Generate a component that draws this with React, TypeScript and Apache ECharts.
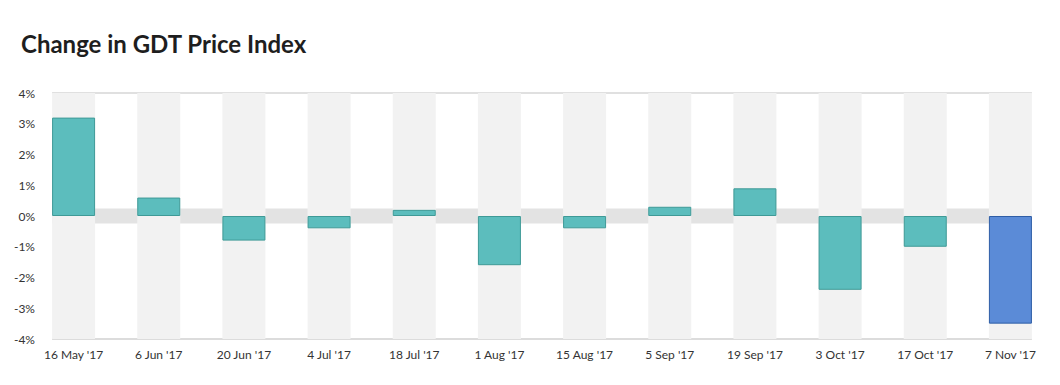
import React, { useEffect, useRef } from "react";
import * as echarts from "echarts";

const categories = [
  "16 May '17", "6 Jun '17", "20 Jun '17", "4 Jul '17", "18 Jul '17", "1 Aug '17",
  "15 Aug '17", "5 Sep '17", "19 Sep '17", "3 Oct '17", "17 Oct '17", "7 Nov '17",
];
const values = [3.2, 0.6, -0.8, -0.4, 0.2, -1.6, -0.4, 0.3, 0.9, -2.4, -1.0, -3.5];
const highlightIndex = 11;
const yMin = -4;
const yMax = 4;
const yInterval = 1;

const TEAL = "#5cbdbd";
const TEAL_BORDER = "#3f9a97";
const BLUE = "#5b8bd7";
const BLUE_BORDER = "#2f5ea6";
const BAR_W = 43;
const FONT = "Lato, 'Open Sans', sans-serif";

export default function App() {
  const ref = useRef<HTMLDivElement>(null);
  useEffect(() => {
    document.body.style.margin = "0";
    if (!ref.current) return;
    const chart = echarts.init(ref.current, undefined, { renderer: "svg" });
    chart.setOption({
      animation: false,
      backgroundColor: "#ffffff",
      title: {
        text: "Change in GDT Price Index",
        left: 21,
        top: 31,
        padding: 0,
        textStyle: { fontFamily: FONT, fontSize: 24, fontWeight: "bold", color: "#1e1e1e" },
      },
      grid: { left: 31, right: 7, top: 93, bottom: 46 },
      xAxis: {
        type: "category",
        data: categories,
        axisLine: { show: false },
        axisTick: { show: false },
        axisLabel: { fontFamily: FONT, fontSize: 12, color: "#333", margin: 9, interval: 0 },
        splitLine: { show: false },
      },
      yAxis: {
        type: "value",
        min: yMin,
        max: yMax,
        interval: yInterval,
        axisLine: { show: false },
        axisTick: { show: false },
        splitLine: { show: false },
        axisLabel: {
          formatter: "{value}%",
          fontFamily: FONT,
          fontSize: 12,
          color: "#333",
          margin: -4,
        },
      },
      series: [
        {
          type: "bar",
          barWidth: BAR_W,
          showBackground: true,
          backgroundStyle: { color: "#f2f2f2" },
          data: values.map((v, i) => ({
            value: v,
            itemStyle:
              i === highlightIndex
                ? { color: BLUE, borderColor: BLUE_BORDER, borderWidth: 1 }
                : { color: TEAL, borderColor: TEAL_BORDER, borderWidth: 1 },
          })),
        },
      ],
    });

    const half = BAR_W / 2;
    const x0 = (chart.convertToPixel({ xAxisIndex: 0 }, 0) as number) - half;
    const x1 = (chart.convertToPixel({ xAxisIndex: 0 }, categories.length - 1) as number) + half;
    const yTop = chart.convertToPixel({ yAxisIndex: 0 }, yMax) as number;
    const yZero = chart.convertToPixel({ yAxisIndex: 0 }, 0) as number;
    const yBot = chart.convertToPixel({ yAxisIndex: 0 }, yMin) as number;
    chart.setOption({
      graphic: [
        { type: "line", z: 0, shape: { x1: x0, y1: yZero, x2: x1, y2: yZero }, style: { stroke: "#e3e3e3", lineWidth: 15 }, silent: true },
        { type: "line", z: 0, shape: { x1: x0, y1: yTop, x2: x1, y2: yTop }, style: { stroke: "#e0e0e0", lineWidth: 2 }, silent: true },
        { type: "line", z: 0, shape: { x1: x0, y1: yBot, x2: x1, y2: yBot }, style: { stroke: "#dcdcdc", lineWidth: 2 }, silent: true },
      ],
    });
    return () => chart.dispose();
  }, []);
  return <div ref={ref} style={{ width: 1060, height: 385 }} />;
}
